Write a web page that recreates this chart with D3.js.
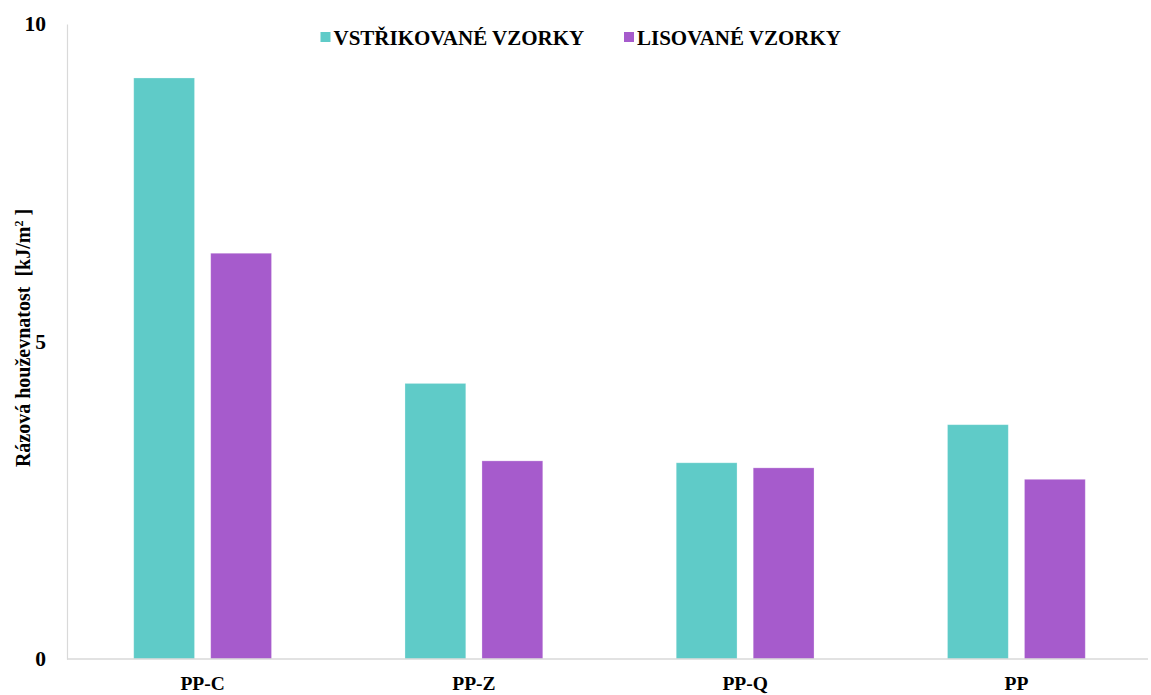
<!DOCTYPE html>
<html>
<head>
<meta charset="utf-8">
<script src="https://cdn.jsdelivr.net/npm/d3@7"></script>
<style>
  html, body { margin: 0; padding: 0; background: #fff; }
  svg { display: block; font-family: "Liberation Serif", "Times New Roman", serif; font-weight: bold; }
</style>
</head>
<body>
<svg id="chart" width="1151" height="695"></svg>
<script>
// Impact strength per material, two sample preparations
const categories = ["PP-C", "PP-Z", "PP-Q", "PP"];
const seriesNames = ["VSTŘIKOVANÉ VZORKY", "LISOVANÉ VZORKY"];
const injectionValues = [9.15, 4.34, 3.09, 3.69];
const pressedValues = [6.39, 3.12, 3.01, 2.83];
const yTicks = [0, 5, 10];
const colors = ["#5fcbc8", "#a65bcc"];

const svg = d3.select("#chart");
const plotLeft = 67, plotRight = 1152, plotTop = 24, plotBottom = 659;

const x0 = d3.scaleBand().domain(categories).range([plotLeft, plotRight])
  .paddingInner(0.492).paddingOuter(0.246);
const x1 = d3.scaleBand().domain(seriesNames).range([0, x0.bandwidth()]).paddingInner(0.21);
const y = d3.scaleLinear().domain([0, 10]).range([plotBottom, plotTop]);

const rows = categories.map((c, i) => ({ cat: c, vals: [injectionValues[i], pressedValues[i]] }));

// bars
const g = svg.append("g");
rows.forEach(r => {
  r.vals.forEach((v, j) => {
    g.append("rect")
      .attr("x", x0(r.cat) + x1(seriesNames[j]))
      .attr("y", y(v))
      .attr("width", x1.bandwidth())
      .attr("height", y(0) - y(v))
      .attr("fill", colors[j])
      .attr("stroke", "#ffffff")
      .attr("stroke-opacity", 0.35)
      .attr("stroke-width", 0.8);
  });
});

// y axis
const yAxis = d3.axisLeft(y).tickValues(yTicks).tickSize(0).tickPadding(21).tickFormat(d3.format("d"));
const ya = svg.append("g").attr("transform", `translate(${plotLeft},0)`).call(yAxis);
ya.select(".domain").attr("stroke", "#d9d9d9").attr("stroke-width", 1.2);
ya.selectAll("text").attr("font-size", 21.5).attr("fill", "#000")
  .attr("font-family", "Liberation Serif").attr("font-weight", "bold");

// x axis
const xAxis = d3.axisBottom(x0).tickSize(0).tickPadding(17);
const xa = svg.append("g").attr("transform", `translate(0,${plotBottom})`).call(xAxis);
xa.select(".domain").attr("stroke", "#d9d9d9").attr("stroke-width", 1.5)
  .attr("d", `M${plotLeft},0H1148`);
xa.selectAll("text").attr("font-size", 19.5).attr("fill", "#000")
  .attr("font-family", "Liberation Serif").attr("font-weight", "bold");

// y axis title
const yt = svg.append("text")
  .attr("transform", "translate(30,338) rotate(-90)")
  .attr("text-anchor", "middle")
  .attr("font-size", 20)
  .attr("fill", "#000")
  .attr("xml:space", "preserve")
  .style("white-space", "pre");
yt.append("tspan").text("Rázová houževnatost  [kJ/m");
yt.append("tspan").attr("baseline-shift", "super").attr("font-size", 12).text("2");
yt.append("tspan").text(" ]");

// legend
const legendItems = [
  { name: seriesNames[0], color: colors[0], x: 320.5 },
  { name: seriesNames[1], color: colors[1], x: 624 }
];
legendItems.forEach(it => {
  svg.append("rect").attr("x", it.x).attr("y", 32).attr("width", 10).attr("height", 10).attr("fill", it.color);
  svg.append("text").attr("x", it.x + 13).attr("y", 45)
    .attr("font-size", 21).attr("fill", "#000").text(it.name);
});
</script>
</body>
</html>
